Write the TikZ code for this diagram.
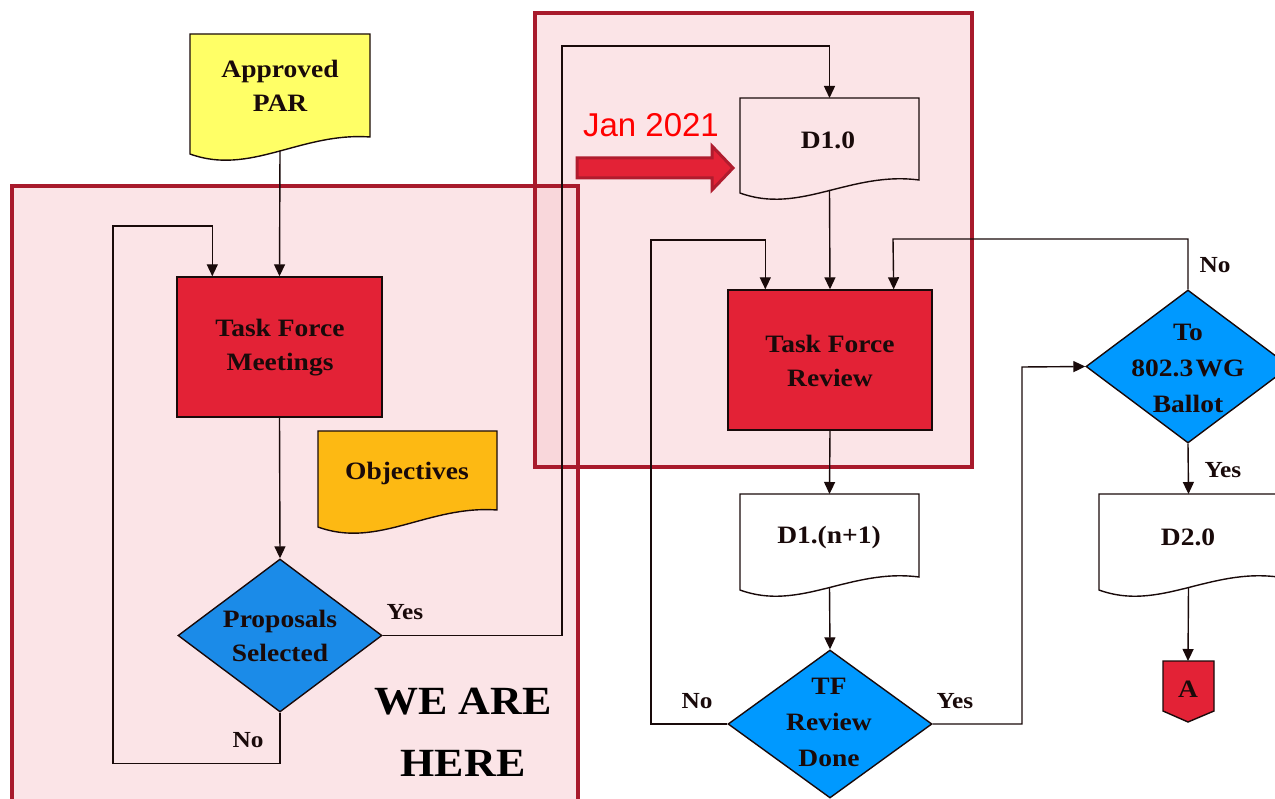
\documentclass[tikz,border=0pt]{standalone}
\usepackage{fontspec}
\setmainfont{Liberation Serif}[FakeStretch=1.1]
\newfontfamily\sansf{Liberation Sans}
\usetikzlibrary{arrows.meta,calc,shapes.geometric}
\definecolor{tfred}{RGB}{227,34,54}
\definecolor{framered}{RGB}{168,26,44}
\definecolor{framefill}{RGB}{249,203,209}
\definecolor{paryellow}{RGB}{255,255,102}
\definecolor{objorange}{RGB}{253,185,19}
\definecolor{psblue}{RGB}{27,139,232}
\definecolor{decblue}{RGB}{0,153,255}
\definecolor{ink}{RGB}{25,10,10}
\definecolor{arrowedge}{RGB}{176,28,46}
\newcommand\docoutline[3]{%
  \draw[#3] (#1.north west) -- (#1.north east) -- ($(#1.north east)+(0,#2)$)
    .. controls ($(#1.south west)!0.615!(#1.south east)+(0,-22)$) and ($(#1.south west)!0.335!(#1.south east)+(0,22)$) .. (#1.south west) -- cycle;}
\begin{document}
\begin{tikzpicture}[x=1pt,y=-1pt,
  conn/.style={draw=ink, line width=1.4pt},
  arr/.style={conn,-{Triangle[length=12pt,width=11pt]}},
  docnode/.style={rectangle, inner sep=0pt, outer sep=0pt, anchor=north west},
  shapeline/.style={draw=ink, line width=1.4pt},
  block/.style={rectangle, shapeline, fill=tfred, inner sep=0pt},
  dec/.style={diamond, shapeline, inner sep=0pt},
  txt/.style={font=\fontsize{25}{34}\selectfont\bfseries, text=ink, align=center, inner sep=0pt},
  lab/.style={font=\fontsize{23}{26}\selectfont\bfseries, text=ink, inner sep=0pt, anchor=base},
  frame/.style={draw=framered, line width=3.5pt}
]
\clip (0,0) rectangle (1275,799);
\fill[white] (0,0) rectangle (1275,799);
% frames
\fill[framefill, fill opacity=0.5] (12,186) rectangle (578,830);
\fill[framefill, fill opacity=0.5] (535,13) rectangle (972,467);
\draw[frame] (12,186) rectangle (578,830);
\draw[frame] (535,13) rectangle (972,467);

% document shapes
\node[docnode, minimum width=180pt, minimum height=120pt] (par) at (190,34) {};
\docoutline{par}{103}{shapeline, fill=paryellow}
\node[txt] at (280,86) {Approved\\PAR};

\node[docnode, minimum width=179pt, minimum height=96pt] (obj) at (318,431) {};
\docoutline{obj}{79}{shapeline, fill=objorange}
\node[txt] at (407,473) {Objectives};

\node[docnode, minimum width=179pt, minimum height=95pt] (d10) at (740,98) {};
\docoutline{d10}{82}{shapeline}
\node[txt] at (828,140) {D1.0};

\node[docnode, minimum width=179pt, minimum height=96pt] (dn1) at (740,494) {};
\docoutline{dn1}{83}{shapeline, fill=white}
\node[txt] at (829,537) {D1.(n+1)};

\node[docnode, minimum width=179pt, minimum height=96pt] (d20) at (1099,494) {};
\docoutline{d20}{83}{shapeline, fill=white}
\node[txt] at (1188,537) {D2.0};

% process blocks
\node[block, minimum width=205pt, minimum height=140pt] (tfm) at (279.5,347) {};
\node[txt] at (280,348) {Task Force\\Meetings};
\node[block, minimum width=204pt, minimum height=140pt] (tfr) at (830,360) {};
\node[txt] at (830,361) {Task Force\\Review};

% decisions
\node[dec, fill=psblue, minimum width=204pt, minimum height=153pt] (ps) at (280,635.5) {};
\node[txt] at (280,636) {Proposals\\Selected};
\node[dec, fill=decblue, minimum width=204pt, minimum height=148pt] (tfd) at (830,724) {};
\node[txt, font=\fontsize{25}{36}\selectfont\bfseries] at (829,722) {TF\\Review\\Done};
\node[dec, fill=decblue, minimum width=204pt, minimum height=153pt] (wg) at (1188,366.5) {};
\node[txt, font=\fontsize{25}{36}\selectfont\bfseries] at (1188,368) {To\\802.3\hspace{0.1em}WG\\Ballot};

% off-page connector
\draw[shapeline, fill=tfred] (1163,661) -- (1214,661) -- (1214,711) -- (1188,722) -- (1163,711) -- cycle;
\node[txt] (A) at (1188,689) {A};
\coordinate (Atop) at (1188,661);

% big text
\node[txt, font=\fontsize{40}{62}\selectfont\bfseries, text=black] (here) at (463,732) {WE ARE\\HERE};
\node[font=\sansf\fontsize{33}{38}\selectfont, text=red, inner sep=0pt] (jan) at (651,125) {Jan 2021};
\draw[arrowedge, fill=tfred, line width=3pt, line join=miter] (577,158) -- (712,158) -- (712,146) -- (733,168) -- (712,190) -- (712,178) -- (577,178) -- cycle;

% connectors
\draw[arr] ($(par.south)+(0,-3)$) -- (tfm.north);
\draw[arr] (tfm.south) -- (ps.north);
\draw[arr] (ps.south) -- ++(0,51) -| (113,226) -| ($(tfm.north west)+(36,0)$);
\draw[arr] (ps.east) -| (562,46) -| (d10.north);
\draw[arr] ($(d10.south)+(0,-3)$) -- (tfr.north);
\draw[arr] (tfd.west) -| (651,240) -| ($(tfr.north west)+(38,0)$);
\draw[arr] (wg.north) |- (893,239) -- ($(tfr.north east)+(-39,0)$);
\draw[arr] (tfr.south) -- (dn1.north);
\draw[arr] ($(dn1.south)+(0,-3)$) -- (tfd.north);
\draw[arr] (tfd.east) -| (1022,367) -- (wg.west);
\draw[arr] (wg.south) -- (d20.north);
\draw[arr] ($(d20.south)+(0,-3)$) -- (Atop);

% labels
\node[lab] at (405,619) {Yes};
\node[lab] at (248,747) {No};
\node[lab] at (697,708) {No};
\node[lab] at (955,708) {Yes};
\node[lab] at (1215,273) {No};
\node[lab] at (1223,478) {Yes};
\end{tikzpicture}
\end{document}
